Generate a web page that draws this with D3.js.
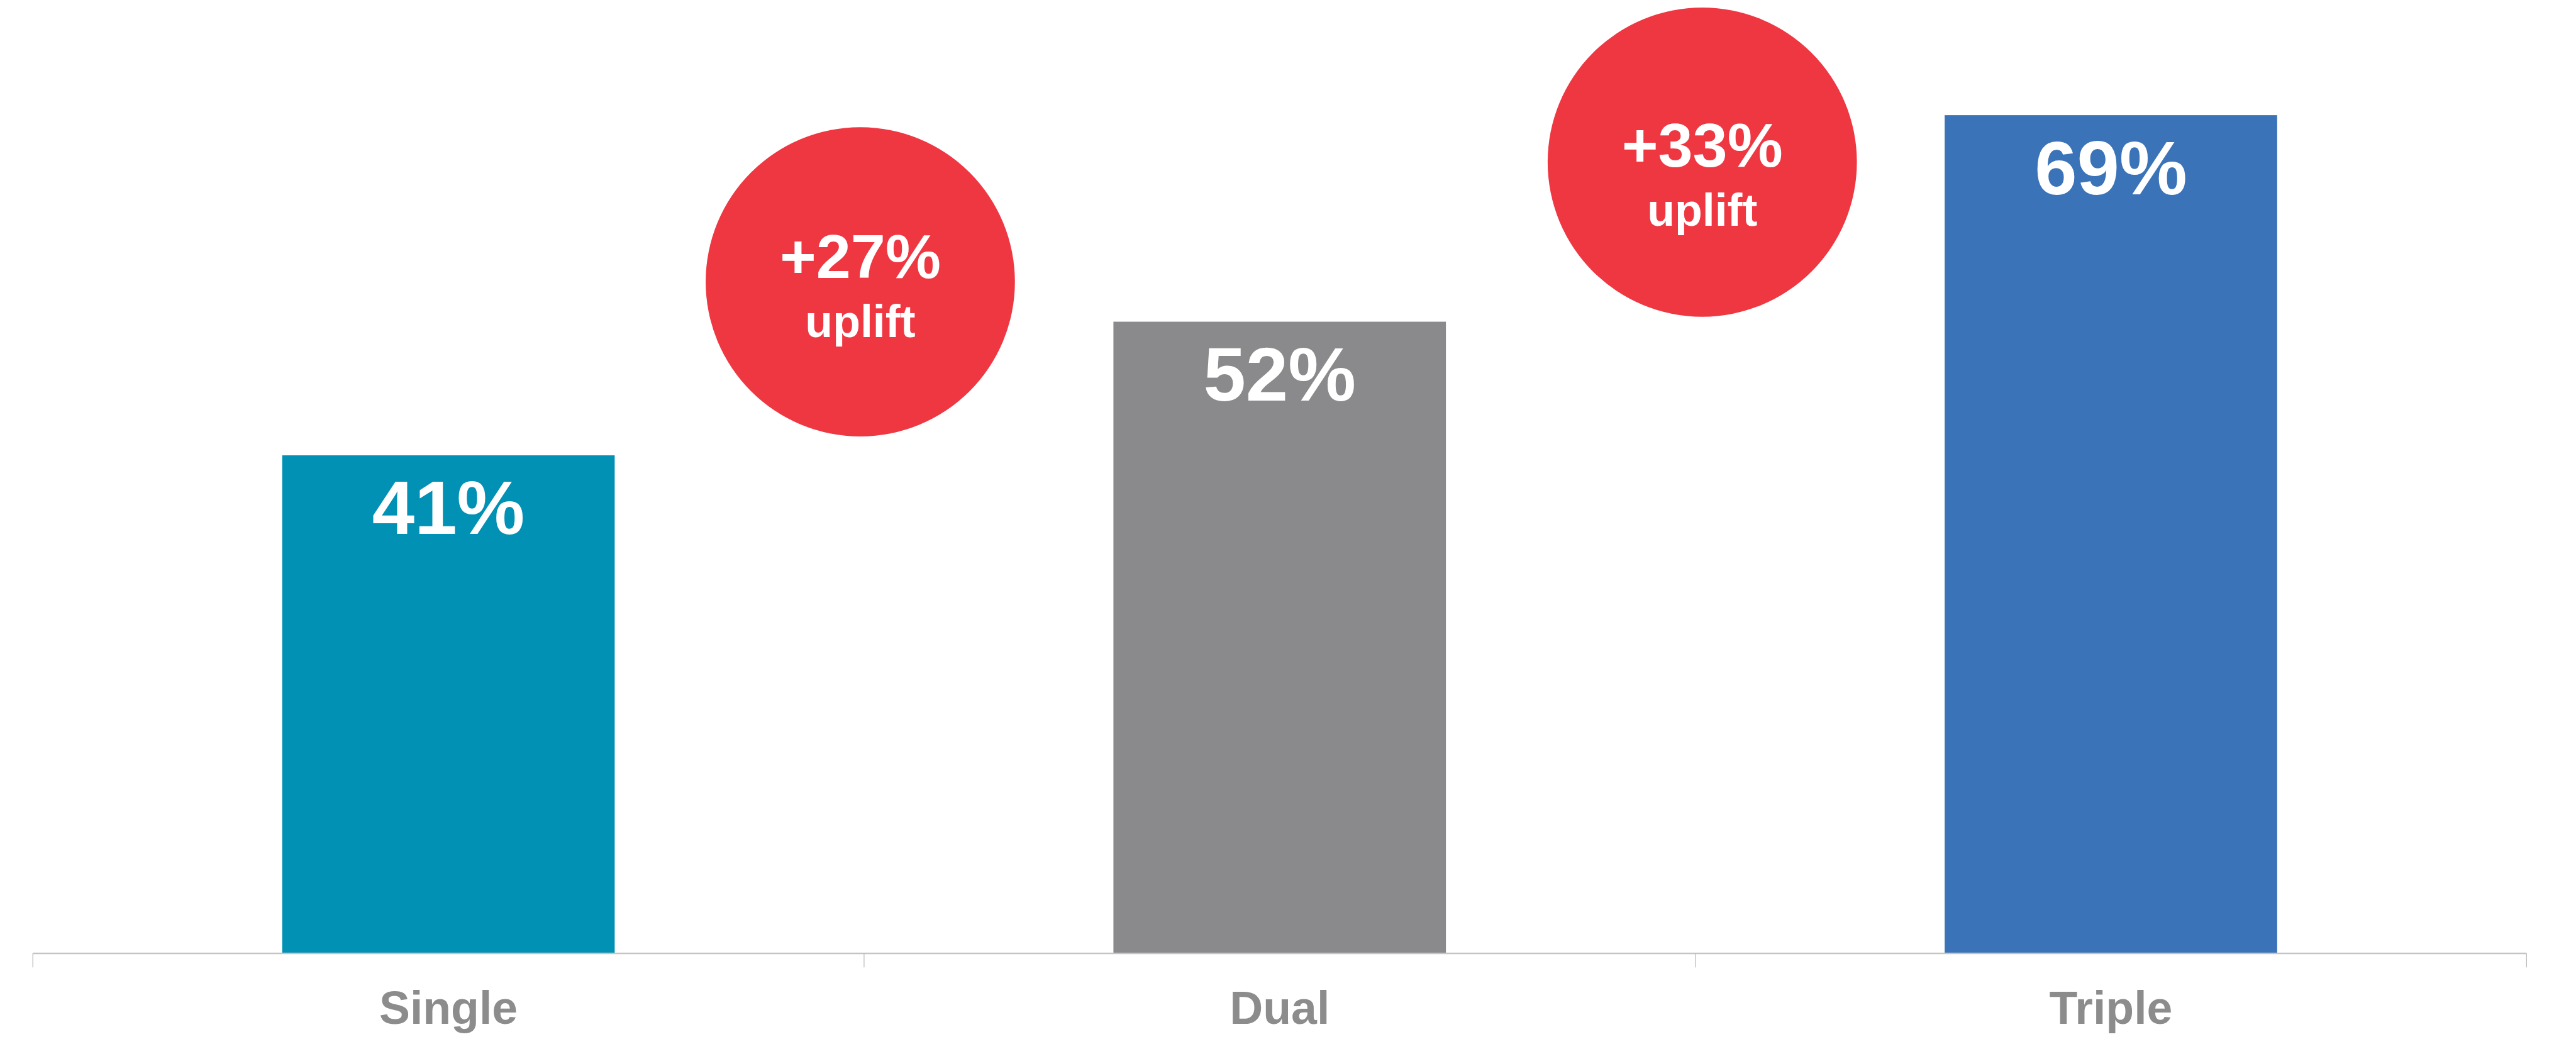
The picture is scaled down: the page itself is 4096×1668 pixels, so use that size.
<!DOCTYPE html>
<html>
<head>
<meta charset="utf-8">
<script src="https://cdn.jsdelivr.net/npm/d3@7"></script>
<style>
  html, body { margin: 0; padding: 0; background: #ffffff; overflow: hidden; }
  svg { display: block; }
  text { font-family: "Liberation Sans", Arial, Helvetica, sans-serif; font-weight: bold; }
</style>
</head>
<body>
<script>
// Share of customers by number of products held
const categories = ["Single", "Dual", "Triple"];
const values = [41, 52, 69];
const barColors = ["#0091b4", "#8a8a8c", "#3b73b8"];

// Uplift between consecutive categories
const upliftLabels = ["+27%", "+33%"];
const upliftSub = ["uplift", "uplift"];

// Drawing is laid out on a 4798 x 1954 design grid and scaled into the window
const W = 4798, H = 1954;
const svg = d3.select("body").append("svg")
  .attr("width", 4096)
  .attr("height", 1668)
  .attr("viewBox", `0 0 ${W} ${H}`);

const left = 61, right = 4706, baseline = 1776;

const x = d3.scaleBand()
  .domain(categories)
  .range([left, right])
  .paddingInner(0.6)
  .paddingOuter(0.3);

const y = d3.scaleLinear()
  .domain([0, 75])
  .range([baseline, baseline - 75 * 22.63]);

// Bars
svg.append("g").selectAll("rect")
  .data(categories)
  .join("rect")
  .attr("x", d => x(d))
  .attr("y", (d, i) => y(values[i]))
  .attr("width", x.bandwidth())
  .attr("height", (d, i) => y(0) - y(values[i]))
  .attr("fill", (d, i) => barColors[i]);

// Value labels inside the bar tops
svg.append("g").selectAll("text")
  .data(categories)
  .join("text")
  .attr("x", d => x(d) + x.bandwidth() / 2)
  .attr("y", (d, i) => y(values[i]) + 147)
  .attr("text-anchor", "middle")
  .attr("font-size", 142)
  .attr("fill", "#ffffff")
  .text((d, i) => values[i] + "%");

// Category axis with tick marks between the categories
const step = x.step();
const boundaries = d3.range(categories.length + 1).map(i => left + i * step);
const axis = svg.append("g");
axis.append("line")
  .attr("x1", left).attr("x2", right)
  .attr("y1", baseline).attr("y2", baseline)
  .attr("stroke", "#c4c4c4")
  .attr("stroke-width", 3);
axis.selectAll("line.tick")
  .data(boundaries)
  .join("line")
  .attr("class", "tick")
  .attr("x1", d => d).attr("x2", d => d)
  .attr("y1", baseline).attr("y2", baseline + 26)
  .attr("stroke", "#bdbdbd")
  .attr("stroke-width", 1.5);
axis.selectAll("text")
  .data(categories)
  .join("text")
  .attr("x", d => x(d) + x.bandwidth() / 2)
  .attr("y", 1907)
  .attr("text-anchor", "middle")
  .attr("font-size", 86)
  .attr("fill", "#8c8c8c")
  .text(d => d);

// Uplift badges sitting between neighbouring bars
const badgeLayout = [
  { cx: boundaries[1] - 7, cy: 525, top: -7, sub: 103 },
  { cx: boundaries[2] + 13, cy: 302, top: 9, sub: 118 }
];
const badges = svg.append("g").selectAll("g")
  .data(upliftLabels)
  .join("g")
  .attr("transform", (d, i) => `translate(${badgeLayout[i].cx},${badgeLayout[i].cy})`);
badges.append("circle")
  .attr("r", 288)
  .attr("fill", "#ef3742");
badges.append("text")
  .attr("y", (d, i) => badgeLayout[i].top)
  .attr("text-anchor", "middle")
  .attr("font-size", 116)
  .attr("fill", "#ffffff")
  .text(d => d);
badges.append("text")
  .attr("y", (d, i) => badgeLayout[i].sub)
  .attr("text-anchor", "middle")
  .attr("font-size", 84)
  .attr("fill", "#ffffff")
  .text((d, i) => upliftSub[i]);
</script>
</body>
</html>
